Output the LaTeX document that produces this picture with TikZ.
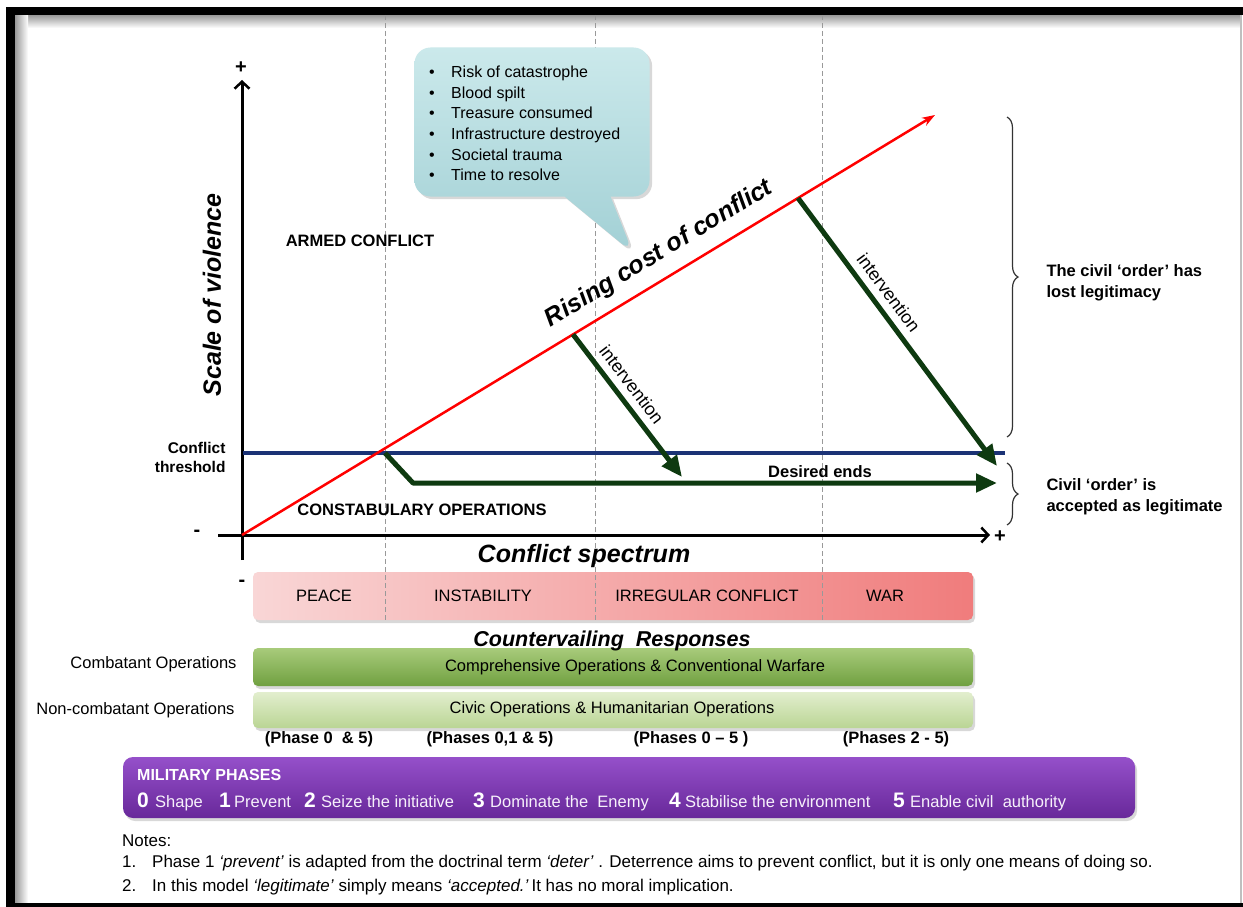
\documentclass[tikz,border=0pt]{standalone}
\usepackage{fontspec}
\setmainfont{Liberation Sans}
\usetikzlibrary{arrows.meta,shapes.callouts,shadows,decorations.pathreplacing}

\definecolor{threshblue}{HTML}{1B3275}
\definecolor{intgreen}{HTML}{0E3A10}
\definecolor{bubbletop}{HTML}{CBE9EB}
\definecolor{bubblebot}{HTML}{A2D0D5}
\definecolor{peaceleft}{HTML}{F9D6D6}
\definecolor{warright}{HTML}{F07C7C}
\definecolor{combtop}{HTML}{A8CB7B}
\definecolor{combbot}{HTML}{70A040}
\definecolor{civtop}{HTML}{E2EECE}
\definecolor{civbot}{HTML}{BAD594}
\definecolor{phasetop}{HTML}{9550CA}
\definecolor{phasebot}{HTML}{68289A}

\tikzset{
	axis/.style={line width=3pt, -{Straight Barb[length=7pt,width=15pt,line width=2.5pt]}},
	guide/.style={black!40, line width=1pt, dash pattern=on 5pt off 3pt},
	push/.style={intgreen, line width=5pt, -{Triangle[length=21pt,width=18pt]}},
	brace/.style={decorate, decoration={brace, amplitude=11pt}, draw=black!80, line width=1.2pt},
	bar/.style={rounded corners=5pt, minimum width=720pt, inner sep=0pt, drop shadow={opacity=.3, shadow xshift=2pt, shadow yshift=-3pt}},
	caplbl/.style={font=\fontsize{16.5}{21}\selectfont\bfseries},
	axistitle/.style={font=\fontsize{25}{30}\selectfont\bfseries\itshape},
	barlbl/.style={font=\fontsize{16.5}{20}\selectfont},
	intlbl/.style={font=\fontsize{18}{20}\selectfont, text=black},
	signlbl/.style={font=\fontsize{20}{24}\selectfont\bfseries},
	phnum/.style={anchor=base west, inner sep=0pt, text=white, font=\fontsize{21}{24}\selectfont\bfseries},
	phtxt/.style={anchor=base west, inner sep=0pt, text=white!92!phasetop, font=\fontsize{16.5}{20}\selectfont},
	notelbl/.style={anchor=base west, inner sep=0pt, font=\fontsize{17}{20}\selectfont}
}

\begin{document}
\begin{tikzpicture}[x=1pt, y=-1pt, >=Stealth]
	\useasboundingbox[fill=white] (0,0) rectangle (1243,907);
	% frame
	\shade[top color=black!40, bottom color=white] (15,15) rectangle (1241,28);
	\shade[left color=black!40, right color=white] (15,15) rectangle (28,903);
	\fill[black] (6,7) rectangle (1243,15);
	\fill[black] (6,7) rectangle (15,907);
	\fill[black] (6,903) rectangle (1243,907);
	\draw[black!25, line width=2pt] (1241,15) -- (1241,903);

	\coordinate (O) at (242,535);
	\coordinate (ytip) at (242,80);
	\coordinate (ystart) at (242,560);
	\coordinate (xstart) at (218,535);
	\coordinate (xtip) at (990,535);
	\coordinate (costtip) at (935,115);
	\coordinate (hitA) at (573,334.4);
	\coordinate (hitB) at (798,198);
	\coordinate (endA) at (682,477);
	\coordinate (endB) at (997,466);
	\coordinate (thrL) at (243,453);
	\coordinate (thrR) at (1005,453);
	\coordinate (endsA) at (385,453);
	\coordinate (endsB) at (413,483);
	\coordinate (endsC) at (997,483);
	\coordinate (bubbletip) at (633,253);
	\coordinate (lostT) at (1007,117);
	\coordinate (lostB) at (1007,437);
	\coordinate (accT) at (1007,463);
	\coordinate (accB) at (1007,525);

	% bars
	\node[bar, minimum height=48pt, left color=peaceleft, right color=warright] (spectrum) at (613,596) {};
	\node[bar, minimum height=38pt, top color=combtop, bottom color=combbot] (combat) at (613,667) {};
	\node[bar, minimum height=36pt, top color=civtop, bottom color=civbot] (civic) at (613,710) {};
	\node[bar, minimum width=1012pt, minimum height=61pt, rounded corners=10pt, top color=phasetop, bottom color=phasebot] (phases) at (629,787.5) {};

	\foreach \gx in {385,595,822}
		\draw[guide] (\gx,15) -- (\gx,620);

	% axes and lines
	\draw[axis] (xstart) -- (xtip);
	\draw[axis] (ystart) -- (ytip);
	\draw[threshblue, line width=4pt] (thrL) -- (thrR);
	\draw[red, line width=2.5pt, -{Stealth[length=13pt,width=9pt]}] (O) -- (costtip) node[pos=.62, sloped, above=8pt, font=\fontsize{25}{28}\selectfont\bfseries\itshape, text=black] (risingcost) {Rising cost of conflict};
	\draw[push] (hitA) -- (endA) node[pos=.42, sloped, above=4pt, intlbl] (intA) {intervention};
	\draw[push] (hitB) -- (endB) node[pos=.39, sloped, above=4pt, intlbl] (intB) {intervention};
	\draw[push, line join=round] (endsA) -- (endsB) -- (endsC);

	% callout
	\node[rectangle callout, callout absolute pointer={(bubbletip)}, callout pointer width=46pt, rounded corners=16pt, minimum width=235pt, minimum height=149pt, top color=bubbletop, bottom color=bubblebot, drop shadow={opacity=.3}] (bubble) at (532,122) {};
	\node[anchor=north west, align=left, inner sep=0pt, font=\fontsize{16}{20.6}\selectfont] (costlist) at (425,66) {%
		\makebox[26pt][l]{\hspace{4pt}\textbullet}Risk of catastrophe\\
		\makebox[26pt][l]{\hspace{4pt}\textbullet}Blood spilt\\
		\makebox[26pt][l]{\hspace{4pt}\textbullet}Treasure consumed\\
		\makebox[26pt][l]{\hspace{4pt}\textbullet}Infrastructure destroyed\\
		\makebox[26pt][l]{\hspace{4pt}\textbullet}Societal trauma\\
		\makebox[26pt][l]{\hspace{4pt}\textbullet}Time to resolve};

	% chart labels
	\node[caplbl] (armed) at (360,241) {ARMED CONFLICT};
	\node[caplbl] (constab) at (422,510) {CONSTABULARY OPERATIONS};
	\node[caplbl, font=\fontsize{15.5}{19}\selectfont\bfseries, align=right, anchor=east] (threshold) at (229,457) {Conflict\\threshold};
	\node[caplbl] (desired) at (820,472) {Desired ends};
	\node[axistitle, rotate=90] (violence) at (212,295) {Scale of violence};
	\node[axistitle] (spectrumlbl) at (584,556) {Conflict spectrum};
	\node[signlbl] (yplus) at (241,68) {+};
	\node[signlbl] (xplus) at (1000,537) {+};
	\node[signlbl] (xminus) at (197,533) {-};
	\node[signlbl] (barminus) at (242,583) {-};

	\draw[brace] (lostT) -- (lostB);
	\draw[brace] (accT) -- (accB);
	\node[caplbl, align=left, anchor=west] (lost) at (1043,283) {The civil ‘order’ has\\lost legitimacy};
	\node[caplbl, align=left, anchor=west] (accepted) at (1043,497) {Civil ‘order’ is\\accepted as legitimate};

	% spectrum and responses
	\node[barlbl] (peace) at (324,596) {PEACE};
	\node[barlbl] (instab) at (483,596) {INSTABILITY};
	\node[barlbl] (irreg) at (707,596) {IRREGULAR CONFLICT};
	\node[barlbl] (war) at (885,596) {WAR};
	\node[font=\fontsize{21.5}{25}\selectfont\bfseries\itshape] (counter) at (612,641) {Countervailing\ \ Responses};
	\node[barlbl] (combtxt) at (635,667) {Comprehensive Operations \& Conventional Warfare};
	\node[barlbl] (civtxt) at (612,709) {Civic Operations \& Humanitarian Operations};
	\node[barlbl, anchor=east] (comblbl) at (240,664) {Combatant Operations};
	\node[barlbl, anchor=east] (noncomblbl) at (238,710) {Non-combatant Operations};
	\node[caplbl] (phA) at (319,739) {(Phase 0\ \ \& 5)};
	\node[caplbl] (phB) at (490,739) {(Phases 0,1 \& 5)};
	\node[caplbl] (phC) at (691,739) {(Phases 0 – 5 )};
	\node[caplbl] (phD) at (896,739) {(Phases 2 - 5)};

	% military phases
	\node[anchor=base west, inner sep=0pt, text=white, font=\fontsize{16}{19}\selectfont\bfseries] (milphases) at (137,780) {MILITARY PHASES};
	\node[phnum] (n0) at (137,807) {0};
	\node[phtxt] (t0) at (155,807) {Shape};
	\node[phnum] (n1) at (219,807) {1};
	\node[phtxt] (t1) at (234,807) {Prevent};
	\node[phnum] (n2) at (304,807) {2};
	\node[phtxt] (t2) at (321,807) {Seize the initiative};
	\node[phnum] (n3) at (473,807) {3};
	\node[phtxt] (t3) at (490,807) {Dominate the\ \ Enemy};
	\node[phnum] (n4) at (669,807) {4};
	\node[phtxt] (t4) at (685,807) {Stabilise the environment};
	\node[phnum] (n5) at (893,807) {5};
	\node[phtxt] (t5) at (910,807) {Enable civil\ \ authority};

	% notes
	\node[notelbl] (notes) at (122,846) {Notes:};
	\node[notelbl] (noteA) at (122,867) {\makebox[30pt][l]{1.}Phase 1 \textit{‘prevent’} is adapted from the doctrinal term \textit{‘deter’} . Deterrence aims to prevent conflict, but it is only one means of doing so.};
	\node[notelbl] (noteB) at (122,891) {\makebox[30pt][l]{2.}In this model \textit{‘legitimate’} simply means \textit{‘accepted.’}\,It has no moral implication.};
\end{tikzpicture}
\end{document}
